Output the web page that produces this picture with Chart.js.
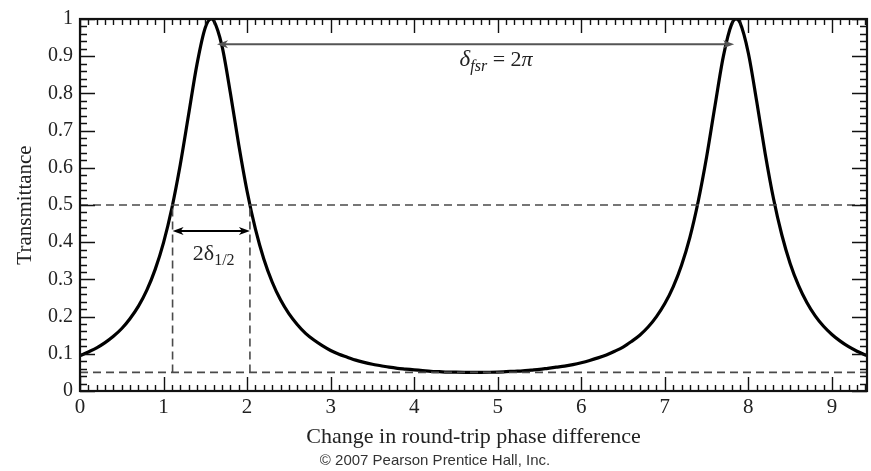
<!DOCTYPE html>
<html>
<head>
<meta charset="utf-8">
<script src="https://cdn.jsdelivr.net/npm/chart.js@4.4.1/dist/chart.umd.min.js"></script>
<style>
  html, body { margin: 0; padding: 0; background: #fff; }
  #wrap { width: 871px; height: 471px; position: relative; }
</style>
</head>
<body>
<div id="wrap"><canvas id="c" width="871" height="471"></canvas></div>
<script>
// ---- data ----
const phase = [0,0.1,0.2,0.3,0.4,0.5,0.6,0.7,0.8,0.9,1.0,1.1,1.2,1.3,1.4,1.5,1.571,1.6,1.7,1.8,1.9,2.0,
  2.1,2.2,2.3,2.4,2.5,2.6,2.7,2.8,2.9,3.0,3.1,3.2,3.3,3.4,3.5,3.6,3.7,3.8,3.9,4.0,
  4.1,4.2,4.3,4.4,4.5,4.6,4.7,4.8,4.9,5.0,5.1,5.2,5.3,5.4,5.5,5.6,5.7,5.8,5.9,6.0,
  6.1,6.2,6.3,6.4,6.5,6.6,6.7,6.8,6.9,7.0,7.1,7.2,7.3,7.4,7.5,7.6,7.7,7.8,7.854,7.9,8.0,
  8.1,8.2,8.3,8.4,8.5,8.6,8.7,8.8,8.9,9.0,9.1,9.2,9.3,9.4,9.42];
const transmittance = [0.095,0.105,0.116,0.130,0.147,0.168,0.195,0.228,0.271,0.327,0.399,0.492,0.608,0.743,0.878,0.977,1.000,0.996,0.927,0.801,0.662,0.537,
  0.435,0.355,0.293,0.245,0.208,0.179,0.155,0.137,0.122,0.109,0.099,0.091,0.083,0.077,0.072,0.068,0.064,0.061,0.059,0.057,
  0.055,0.053,0.052,0.051,0.0505,0.0502,0.050,0.0501,0.0504,0.051,0.052,0.053,0.054,0.056,0.058,0.061,0.064,0.067,0.071,0.076,
  0.082,0.089,0.097,0.107,0.118,0.133,0.150,0.172,0.200,0.235,0.280,0.338,0.413,0.510,0.629,0.766,0.899,0.986,1.000,0.990,0.908,
  0.778,0.640,0.518,0.420,0.343,0.284,0.238,0.202,0.174,0.152,0.134,0.119,0.107,0.097,0.095];

const halfLevel = 0.5;          // dashed line at half maximum
const minLevel = 0.05;          // dashed line at minimum transmittance
const halfWidthEdges = [1.108, 2.034]; // dashed verticals at half maximum
const fsrArrow = { x: [1.64, 7.83], y: 0.932 };
const fwhmArrow = { x: [1.108, 2.034], y: 0.43 };
const fsrLabelPos = { x: 4.98, y: 0.893 };
const fwhmLabelPos = { x: 1.6, y: 0.372 };
const xTickLabels = ['0','1','2','3','4','5','6','7','8','9'];
const yTickLabels = ['0','0.1','0.2','0.3','0.4','0.5','0.6','0.7','0.8','0.9','1'];
const xTitle = 'Change in round-trip phase difference';
const yTitle = 'Transmittance';
const credit = '© 2007 Pearson Prentice Hall, Inc.';
const xMax = 9.42;

const SERIF = '"Liberation Serif", "Times New Roman", serif';

const curve = phase.map((p, i) => ({ x: p, y: transmittance[i] }));
const dashStyle = { borderColor: '#4a4a4a', borderWidth: 1.6, borderDash: [8, 5], pointRadius: 0, fill: false, tension: 0 };

const datasets = [
  Object.assign({ data: [{x: 0, y: halfLevel}, {x: xMax, y: halfLevel}] }, dashStyle),
  Object.assign({ data: [{x: 0, y: minLevel}, {x: xMax, y: minLevel}] }, dashStyle),
  Object.assign({ data: [{x: halfWidthEdges[0], y: minLevel}, {x: halfWidthEdges[0], y: halfLevel}] }, dashStyle),
  Object.assign({ data: [{x: halfWidthEdges[1], y: minLevel}, {x: halfWidthEdges[1], y: halfLevel}] }, dashStyle),
  { data: curve, borderColor: '#000', borderWidth: 3.2, pointRadius: 0, fill: false,
    cubicInterpolationMode: 'monotone' }
];

function arrowHead(ctx, x, y, dir, color) {
  const L = 11, W = 4;
  ctx.save();
  ctx.fillStyle = color;
  ctx.beginPath();
  ctx.moveTo(x, y);
  ctx.lineTo(x - dir * L, y - W);
  ctx.lineTo(x - dir * (L - 3), y);
  ctx.lineTo(x - dir * L, y + W);
  ctx.closePath();
  ctx.fill();
  ctx.restore();
}

function doubleArrow(ctx, sx, x1, x2, y, color, width) {
  const px1 = sx.getPixelForValue(x1), px2 = sx.getPixelForValue(x2);
  ctx.save();
  ctx.strokeStyle = color;
  ctx.lineWidth = width;
  ctx.beginPath();
  ctx.moveTo(px1 + 4, y);
  ctx.lineTo(px2 - 4, y);
  ctx.stroke();
  ctx.restore();
  arrowHead(ctx, px1, y, -1, color);
  arrowHead(ctx, px2, y, 1, color);
}

function drawParts(ctx, parts, cxCenter, baseY) {
  let total = 0;
  parts.forEach(p => { ctx.font = p.f; p.w = ctx.measureText(p.t).width; total += p.w; });
  let cx = cxCenter - total / 2;
  parts.forEach(p => { ctx.font = p.f; ctx.fillText(p.t, cx, baseY + p.dy); cx += p.w; });
}

const framePlugin = {
  id: 'frameTicks',
  afterDatasetsDraw(chart) {
    const { ctx, chartArea: a, scales: { x, y } } = chart;
    ctx.save();
    ctx.strokeStyle = '#111';
    ctx.lineWidth = 1.4;
    ctx.beginPath();
    for (let i = 0; i <= 94; i++) {
      const px = Math.round(x.getPixelForValue(i / 10)) + 0.5;
      const len = (i % 10 === 0) ? 14 : 6;
      ctx.moveTo(px, a.bottom); ctx.lineTo(px, a.bottom - len);
      ctx.moveTo(px, a.top); ctx.lineTo(px, a.top + len);
    }
    for (let j = 0; j <= 50; j++) {
      const py = Math.round(y.getPixelForValue(j / 50)) + 0.5;
      const len = (j % 5 === 0) ? 15 : 7;
      ctx.moveTo(a.left, py); ctx.lineTo(a.left + len, py);
      ctx.moveTo(a.right, py); ctx.lineTo(a.right - len, py);
    }
    ctx.stroke();
    ctx.lineWidth = 2.2;
    ctx.strokeRect(a.left, a.top, a.right - a.left, a.bottom - a.top);
    ctx.restore();

    doubleArrow(ctx, x, fsrArrow.x[0], fsrArrow.x[1], y.getPixelForValue(fsrArrow.y), '#555', 2);
    doubleArrow(ctx, x, fwhmArrow.x[0], fwhmArrow.x[1], y.getPixelForValue(fwhmArrow.y), '#000', 2);

    ctx.save();
    ctx.fillStyle = '#222';
    ctx.textBaseline = 'alphabetic';
    drawParts(ctx, [
      { t: 'δ', f: 'italic 23px ' + SERIF, dy: 0 },
      { t: 'fsr', f: 'italic 16px ' + SERIF, dy: 5 },
      { t: ' = 2', f: '22px ' + SERIF, dy: 0 },
      { t: 'π', f: 'italic 22px ' + SERIF, dy: 0 }
    ], x.getPixelForValue(fsrLabelPos.x), y.getPixelForValue(fsrLabelPos.y) + 7);
    drawParts(ctx, [
      { t: '2δ', f: '22px ' + SERIF, dy: 0 },
      { t: '1/2', f: '16px ' + SERIF, dy: 5 }
    ], x.getPixelForValue(fwhmLabelPos.x), y.getPixelForValue(fwhmLabelPos.y) + 7);
    ctx.restore();
  },
  afterDraw(chart) {
    const { ctx } = chart;
    ctx.save();
    ctx.fillStyle = '#333';
    ctx.textAlign = 'center';
    ctx.textBaseline = 'middle';
    ctx.font = '15px "Liberation Sans", Arial, sans-serif';
    ctx.fillText(credit, 435, 461);
    ctx.restore();
  }
};

new Chart(document.getElementById('c'), {
  type: 'line',
  data: { datasets },
  plugins: [framePlugin],
  options: {
    responsive: false,
    animation: false,
    devicePixelRatio: 1,
    layout: { padding: { left: 0, right: 4, top: 17, bottom: 0 } },
    plugins: { legend: { display: false }, tooltip: { enabled: false } },
    scales: {
      x: {
        type: 'linear', min: 0, max: xMax,
        grid: { display: false, drawTicks: false },
        border: { display: false },
        ticks: {
          stepSize: 1, includeBounds: false, padding: 4, maxRotation: 0,
          color: '#222', font: { family: SERIF, size: 21 },
          callback: (v) => xTickLabels[Math.round(v)] ?? ''
        },
        title: { display: true, text: xTitle, color: '#222',
          font: { family: SERIF, size: 22 }, padding: { top: 0, bottom: 21 } },
        afterFit: (s) => { s.height = 80; }
      },
      y: {
        type: 'linear', min: 0, max: 1,
        grid: { display: false, drawTicks: false },
        border: { display: false },
        ticks: {
          stepSize: 0.1, padding: 7,
          color: '#222', font: { family: SERIF, size: 20 },
          callback: (v) => yTickLabels[Math.round(v * 10)] ?? ''
        },
        title: { display: true, text: yTitle, color: '#222',
          font: { family: SERIF, size: 21 }, padding: { top: 13, bottom: 0 } },
        afterFit: (s) => { s.width = 80; }
      }
    }
  }
});
</script>
</body>
</html>
